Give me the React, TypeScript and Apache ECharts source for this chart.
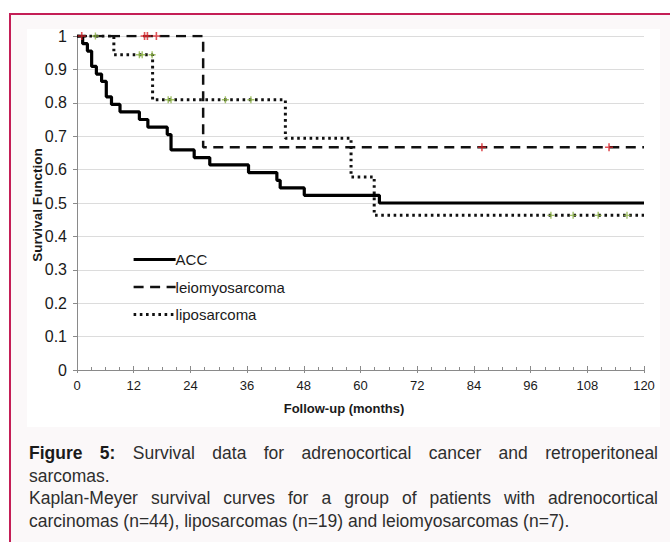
import React, { useEffect, useRef } from "react";
import * as echarts from "echarts";

// ---- data (months, survival function) ----
const accTimes = [0, 1.2, 2.2, 3.1, 4.1, 5.2, 6.2, 7.3, 9.1, 13.2, 15.0, 19.1, 19.9, 24.8, 28.1, 36.3, 42.3, 43.0, 48.1, 64.0, 120];
const accSurv = [1, 0.977, 0.955, 0.909, 0.886, 0.864, 0.818, 0.795, 0.773, 0.75, 0.727, 0.705, 0.659, 0.636, 0.614, 0.591, 0.568, 0.545, 0.523, 0.5, 0.5];

const leioTimes = [0, 26.7, 120];
const leioSurv = [1, 0.667, 0.667];
const leioCensorTimes = [1.0, 14.3, 14.9, 16.8, 85.7, 112.6];
const leioCensorSurv = [1, 1, 1, 1, 0.667, 0.667];

const lipoTimes = [0, 7.8, 16.0, 44.1, 58.0, 62.9, 120];
const lipoSurv = [1, 0.944, 0.809, 0.694, 0.578, 0.463, 0.463];
const lipoCensorTimes = [3.9, 13.2, 13.8, 15.9, 19.3, 19.9, 31.4, 36.8, 100.3, 105.0, 110.3, 116.4];
const lipoCensorSurv = [1, 0.944, 0.944, 0.944, 0.809, 0.809, 0.809, 0.809, 0.463, 0.463, 0.463, 0.463];

const seriesNames = ["ACC", "leiomyosarcoma", "liposarcoma"];
const xTitle = "Follow-up (months)";
const yTitle = "Survival Function";

const zip = (a: number[], b: number[]) => a.map((v, i) => [v, b[i]]);

const FONT = "'Liberation Sans', Arial, sans-serif";
const PLUS = "path://M4,0h2v4h4v2h-4v4h-2v-4h-4v-2h4z";

export default function App() {
  const ref = useRef<HTMLDivElement>(null);
  useEffect(() => {
    if (!ref.current) return;
    const chart = echarts.init(ref.current, undefined, { renderer: "svg" });
    const axisGray = "#8a8a8a";
    chart.setOption({
      animation: false,
      backgroundColor: "#ffffff",
      textStyle: { fontFamily: FONT },
      grid: { left: 50, right: 16, top: 7, bottom: 57, containLabel: false, outerBoundsMode: "none" },
      xAxis: [
        {
          type: "value",
          min: 0,
          max: 120,
          interval: 12,
          position: "bottom",
          axisLine: { show: true, lineStyle: { color: axisGray, width: 1 } },
          axisTick: { show: true, inside: true, length: 4, lineStyle: { color: axisGray } },
          minorTick: { show: true, splitNumber: 4, length: 3, lineStyle: { color: axisGray } },
          axisLabel: { color: "#1a1a1a", fontSize: 13, margin: 9, fontFamily: FONT },
          splitLine: { show: false },
          minorSplitLine: { show: false },
        },
        {
          type: "value",
          min: 0,
          max: 120,
          interval: 12,
          position: "bottom",
          axisLine: { show: false },
          axisTick: { show: true, inside: false, length: 3, lineStyle: { color: axisGray } },
          axisLabel: { show: false },
          splitLine: { show: false },
        },
      ],
      yAxis: {
        type: "value",
        min: 0,
        max: 1,
        interval: 0.1,
        axisLine: { show: true, lineStyle: { color: axisGray, width: 1 } },
        axisTick: { show: true, inside: false, length: 4, lineStyle: { color: axisGray } },
        axisLabel: { color: "#1a1a1a", fontSize: 16, margin: 10, fontFamily: FONT },
        splitLine: { show: true, lineStyle: { color: "#dcdcdc", width: 1.2 } },
      },
      legend: {
        data: seriesNames,
        orient: "vertical",
        left: 105,
        top: 223,
        padding: 0,
        itemWidth: 42,
        itemHeight: 14,
        itemGap: 12.5,
        itemStyle: { opacity: 0 },
        lineStyle: { width: "inherit" },
        textStyle: { fontSize: 15, color: "#1a1a1a", fontFamily: FONT, padding: [0, 0, 0, -5] },
      },
      graphic: [
        {
          type: "text",
          x: 317,
          y: 379,
          style: {
            text: xTitle,
            font: `bold 13px ${FONT}`,
            fill: "#1a1a1a",
            textAlign: "center",
            textVerticalAlign: "middle",
          },
        },
        {
          type: "text",
          x: 10,
          y: 176,
          rotation: Math.PI / 2,
          style: {
            text: yTitle,
            font: `bold 13.5px ${FONT}`,
            fill: "#1a1a1a",
            textAlign: "center",
            textVerticalAlign: "middle",
          },
        },
      ],
      series: [
        {
          name: "liposarcoma",
          type: "line",
          step: "end",
          symbol: "none",
          data: zip(lipoTimes, lipoSurv),
          lineStyle: { color: "#111", width: 3, type: [2.6, 3.6] },
          itemStyle: { color: "#111" },
          z: 2,
        },
        {
          name: "leiomyosarcoma",
          type: "line",
          step: "end",
          symbol: "none",
          data: zip(leioTimes, leioSurv),
          lineStyle: { color: "#111", width: 2.5, type: [10, 6.5] },
          itemStyle: { color: "#111" },
          z: 3,
        },
        {
          name: "ACC",
          type: "line",
          step: "end",
          symbol: "none",
          data: zip(accTimes, accSurv),
          lineStyle: { color: "#000", width: 3.2, type: "solid" },
          itemStyle: { color: "#000" },
          z: 4,
        },
        {
          name: "leio-censored",
          type: "scatter",
          symbol: PLUS,
          symbolSize: 8,
          data: zip(leioCensorTimes, leioCensorSurv),
          itemStyle: { color: "#d8262c" },
          z: 5,
        },
        {
          name: "lipo-censored",
          type: "scatter",
          symbol: PLUS,
          symbolSize: 7,
          data: zip(lipoCensorTimes, lipoCensorSurv),
          itemStyle: { color: "#8db445" },
          z: 5,
        },
      ],
    });
    return () => chart.dispose();
  }, []);

  const capBase: React.CSSProperties = {
    position: "absolute",
    left: 29,
    width: 629,
    fontFamily: FONT,
    fontSize: 17.5,
    lineHeight: "22.5px",
    color: "#2e2e2e",
    transform: "scaleY(1.07)",
    transformOrigin: "50% 50%",
  };
  const just: React.CSSProperties = { textAlign: "justify", textAlignLast: "justify" as any };

  return (
    <div style={{ position: "fixed", left: 0, top: 0, width: 670, height: 543, background: "#fff", overflow: "hidden" }}>
      <div
        style={{
          position: "absolute",
          left: 9,
          top: 13,
          width: 661,
          height: 529,
          background: "#fbf8f9",
          borderLeft: "2px solid #c41e56",
          borderTop: "2px solid #c41e56",
          boxSizing: "border-box",
        }}
      />
      <div ref={ref} style={{ position: "absolute", left: 27, top: 29, width: 633, height: 398 }} />
      <div style={{ ...capBase, ...just, top: 442 }}>
        <b style={{ color: "#1a1a1a" }}>Figure 5:</b> Survival data for adrenocortical cancer and retroperitoneal
      </div>
      <div style={{ ...capBase, top: 464.5 }}>sarcomas.</div>
      <div style={{ ...capBase, ...just, top: 487 }}>
        Kaplan-Meyer survival curves for a group of patients with adrenocortical
      </div>
      <div style={{ ...capBase, top: 509.5 }}>carcinomas (n=44), liposarcomas (n=19) and leiomyosarcomas (n=7).</div>
    </div>
  );
}
